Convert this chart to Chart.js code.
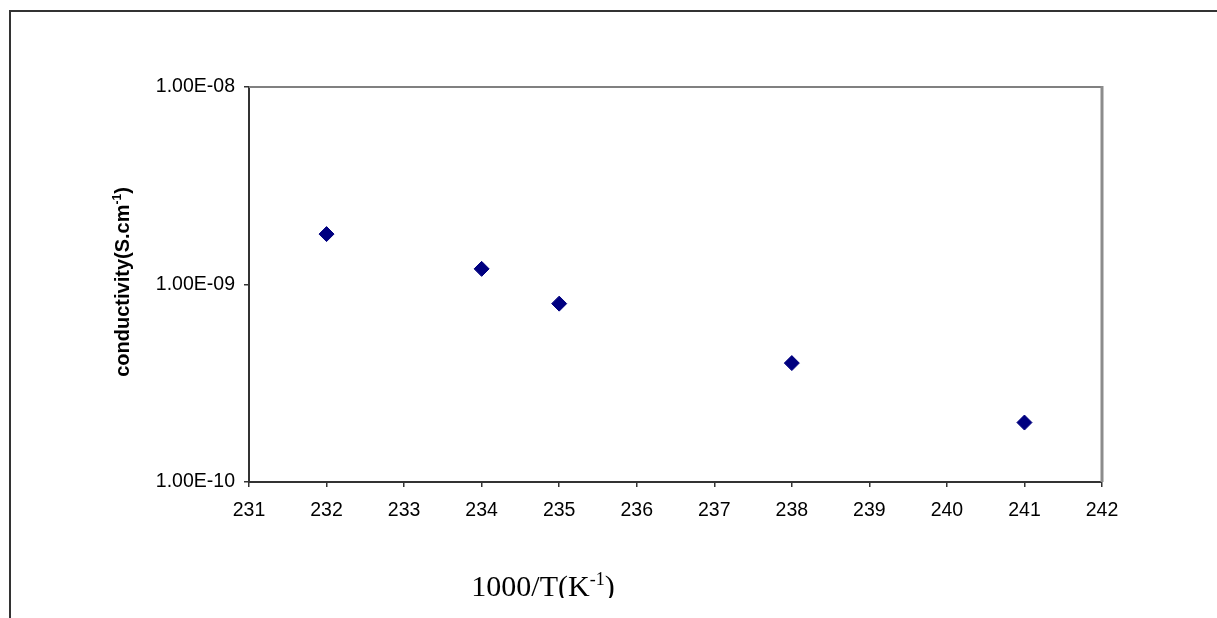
<!DOCTYPE html>
<html>
<head>
<meta charset="utf-8">
<script src="https://cdn.jsdelivr.net/npm/chart.js@4/dist/chart.umd.min.js"></script>
<style>
  body { margin: 0; background: #fff; }
  canvas { display: block; }
</style>
</head>
<body>
<canvas id="myChart" width="1217" height="618"></canvas>
<script>
// data
const invTemp = [232, 234, 235, 238, 241];
const conductivity = [1.8e-9, 1.2e-9, 8.0e-10, 4.0e-10, 2.0e-10];
const yTickValues = [1e-10, 1e-9, 1e-8];
const xRange = [231, 242];

function fmtExp(v) {
    // 1e-9 -> 1.00E-09
    return v.toExponential(2).toUpperCase().replace(/E([+-])(\d)$/, 'E$10$2');
}

// draws text pieces, superscript ones smaller and raised
function drawRich(ctx, parts, size, family, weight) {
    let widths = parts.map(p => {
        ctx.font = weight + ' ' + (p.sup ? Math.round(size * 0.6) : size) + 'px ' + family;
        return ctx.measureText(p.t).width;
    });
    let total = widths.reduce((a, b) => a + b, 0);
    let x = -total / 2;
    parts.forEach((p, i) => {
        ctx.font = weight + ' ' + (p.sup ? Math.round(size * 0.6) : size) + 'px ' + family;
        ctx.fillText(p.t, x, p.sup ? -size * 0.38 : 0);
        x += widths[i];
    });
}

const framePlugin = {
    id: 'frame',
    beforeDraw(chart) {
        const ctx = chart.ctx;
        ctx.save();
        ctx.fillStyle = '#fff';
        ctx.fillRect(0, 0, chart.width, chart.height);
        // outer chart border (only top and left are in view)
        ctx.strokeStyle = '#333';
        ctx.lineWidth = 2;
        ctx.beginPath();
        ctx.moveTo(10, chart.height);
        ctx.lineTo(10, 11);
        ctx.lineTo(chart.width, 11);
        ctx.stroke();
        ctx.restore();
    },
    afterDraw(chart) {
        const ctx = chart.ctx;
        const a = chart.chartArea;
        ctx.save();
        // plot area frame, top and right
        ctx.strokeStyle = '#808080';
        ctx.lineWidth = 2;
        ctx.beginPath();
        ctx.moveTo(a.left, a.top);
        ctx.lineTo(a.right, a.top);
        ctx.stroke();
        ctx.strokeStyle = '#8c8c8c';
        ctx.lineWidth = 3;
        ctx.beginPath();
        ctx.moveTo(a.right, a.top - 1);
        ctx.lineTo(a.right, a.bottom);
        ctx.stroke();

        ctx.fillStyle = '#000';
        ctx.textBaseline = 'alphabetic';
        // y title
        ctx.save();
        ctx.translate(129, 282);
        ctx.rotate(-Math.PI / 2);
        drawRich(ctx, [{t: 'conductivity(S.cm'}, {t: '-1', sup: true}, {t: ')'}], 20, 'Arial, "Liberation Sans", sans-serif', 'bold');
        ctx.restore();

        // x title, cut off at the bottom like the original
        ctx.save();
        ctx.beginPath();
        ctx.rect(0, 0, chart.width, 598);
        ctx.clip();
        ctx.translate(543, 596);
        drawRich(ctx, [{t: '1000/T(K'}, {t: '-1', sup: true}, {t: ')'}], 30, '"Times New Roman", "Liberation Serif", serif', 'normal');
        ctx.restore();
        ctx.restore();
    }
};

const ctx = document.getElementById('myChart').getContext('2d');
const myChart = new Chart(ctx, {
    type: 'scatter',
    data: {
        datasets: [{
            data: invTemp.map((x, i) => ({x: x, y: conductivity[i]})),
            pointStyle: 'rectRot',
            pointRadius: 7.5,
            pointHoverRadius: 7.5,
            backgroundColor: '#000080',
            borderColor: '#000080',
            borderWidth: 1
        }]
    },
    plugins: [framePlugin],
    options: {
        responsive: false,
        animation: false,
        devicePixelRatio: 1,
        layout: {
            padding: {left: 149, top: 87, right: 115, bottom: 36}
        },
        plugins: {
            legend: {display: false},
            tooltip: {enabled: false}
        },
        scales: {
            x: {
                type: 'linear',
                min: xRange[0],
                max: xRange[1],
                ticks: {
                    stepSize: 1,
                    color: '#000',
                    padding: 12,
                    font: {family: 'Arial, "Liberation Sans", sans-serif', size: 19.5}
                },
                grid: {
                    drawOnChartArea: false,
                    drawTicks: true,
                    tickLength: 5,
                    color: '#333',
                    lineWidth: 1.5
                },
                border: {color: '#333', width: 2},
                afterFit(scale) { scale.height = 100; }
            },
            y: {
                type: 'logarithmic',
                min: yTickValues[0],
                max: yTickValues[yTickValues.length - 1],
                afterBuildTicks(scale) {
                    scale.ticks = yTickValues.map(v => ({value: v}));
                },
                ticks: {
                    color: '#000',
                    padding: 9,
                    font: {family: 'Arial, "Liberation Sans", sans-serif', size: 19.5},
                    callback: v => fmtExp(v)
                },
                grid: {
                    drawOnChartArea: false,
                    drawTicks: true,
                    tickLength: 5,
                    color: '#333',
                    lineWidth: 1.5
                },
                border: {color: '#333', width: 2},
                afterFit(scale) { scale.width = 100; }
            }
        }
    }
});
</script>
</body>
</html>
